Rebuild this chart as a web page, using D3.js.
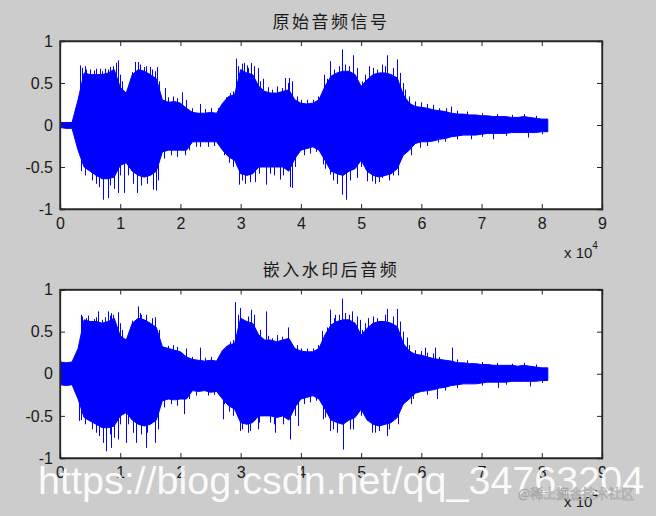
<!DOCTYPE html>
<html><head><meta charset="utf-8">
<script src="https://cdn.jsdelivr.net/npm/d3@7"></script>
<style>html,body{margin:0;padding:0;background:#cccccc;}svg{display:block;}</style>
</head><body>
<script>
// ---------- data ----------
const step = 1000; // samples between envelope points
const xTickValues = [0,1,2,3,4,5,6,7,8,9];   // ×10^4 samples
const yTickValues = [-1,-0.5,0,0.5,1];
const yTickLabels = ["-1","-0.5","0","0.5","1"];
const titles = ["原始音频信号","嵌入水印后音频"];

// original signal: envelope (max / min per 1000 samples)
const upper1 = [0.03,0.03,0.03,0.3,0.62,0.6,0.6,0.6,0.62,0.66,
 0.45,0.38,0.6,0.66,0.64,0.6,0.55,0.3,0.27,0.28,
 0.26,0.2,0.15,0.14,0.14,0.15,0.14,0.26,0.34,0.36,
 0.66,0.62,0.6,0.46,0.4,0.38,0.38,0.4,0.42,0.3,
 0.26,0.25,0.26,0.3,0.46,0.58,0.62,0.64,0.64,0.6,
 0.46,0.54,0.6,0.62,0.62,0.6,0.56,0.36,0.26,0.22,
 0.21,0.2,0.18,0.17,0.16,0.14,0.13,0.13,0.12,0.12,
 0.11,0.11,0.1,0.1,0.1,0.09,0.09,0.1,0.09,0.08,
 0.07,0.07];
const lower1 = [-0.03,-0.04,-0.04,-0.3,-0.5,-0.55,-0.6,-0.64,-0.64,-0.62,
 -0.48,-0.45,-0.55,-0.6,-0.62,-0.6,-0.55,-0.32,-0.3,-0.3,
 -0.3,-0.3,-0.2,-0.2,-0.2,-0.2,-0.2,-0.3,-0.38,-0.42,
 -0.58,-0.6,-0.58,-0.5,-0.5,-0.5,-0.5,-0.5,-0.55,-0.4,
 -0.3,-0.28,-0.26,-0.3,-0.42,-0.55,-0.58,-0.6,-0.55,-0.52,
 -0.42,-0.55,-0.6,-0.62,-0.6,-0.58,-0.52,-0.36,-0.3,-0.22,
 -0.2,-0.2,-0.19,-0.17,-0.16,-0.14,-0.13,-0.12,-0.12,-0.12,
 -0.11,-0.1,-0.1,-0.1,-0.1,-0.09,-0.09,-0.09,-0.09,-0.09,
 -0.08,-0.08];
// isolated peaks [sample, value]
const spikesUp1 = [[3320,0.71],[4150,0.70],[5000,0.66],[6640,0.67],[7970,0.66],[9350,0.74],[9630,0.77],[12450,0.75],[12950,0.75],[13950,0.69],[14950,0.69],[16110,0.69],[17400,0.44],[20260,0.39],[23250,0.25],[26240,0.20],[29180,0.79],[30220,0.73],[30550,0.74],[31050,0.71],[31670,0.74],[32880,0.68],[33710,0.55],[37360,0.56],[38030,0.56],[38530,0.52],[43800,0.60],[44840,0.76],[46880,0.90],[48710,0.83],[51310,0.70],[53420,0.72],[54350,0.83],[55910,0.78],[57290,0.42],[64100,0.20],[64930,0.22]];
const spikesDown1 = [[7140,-0.89],[7970,-0.87],[9630,-0.81],[10630,-0.81],[12790,-0.81],[15440,-0.77],[15940,-0.78],[20760,-0.36],[23250,-0.26],[29230,-0.48],[29720,-0.71],[30720,-0.70],[32380,-0.68],[34160,-0.71],[36530,-0.65],[38190,-0.74],[38580,-0.75],[43720,-0.47],[44840,-0.59],[46780,-0.83],[47440,-0.89],[49270,-0.63],[50930,-0.67],[51760,-0.67],[53420,-0.63],[55350,-0.60],[57570,-0.31],[59780,-0.27],[62720,-0.21],[68250,-0.17],[71850,-0.17],[77670,-0.15]];

// watermarked signal
const upper2 = [0.14,0.13,0.14,0.3,0.64,0.62,0.62,0.6,0.62,0.66,
 0.45,0.4,0.6,0.66,0.64,0.6,0.55,0.32,0.3,0.28,
 0.26,0.2,0.17,0.16,0.15,0.16,0.15,0.28,0.34,0.36,
 0.66,0.62,0.6,0.46,0.4,0.4,0.38,0.4,0.42,0.3,
 0.27,0.26,0.26,0.3,0.46,0.58,0.62,0.64,0.64,0.6,
 0.46,0.54,0.6,0.62,0.62,0.6,0.56,0.36,0.27,0.23,
 0.22,0.2,0.18,0.17,0.16,0.15,0.13,0.13,0.12,0.12,
 0.11,0.11,0.1,0.1,0.1,0.1,0.09,0.1,0.09,0.08,
 0.07,0.07];
const lower2 = [-0.13,-0.14,-0.13,-0.3,-0.52,-0.56,-0.6,-0.64,-0.64,-0.62,
 -0.5,-0.46,-0.55,-0.6,-0.62,-0.6,-0.55,-0.32,-0.3,-0.31,
 -0.3,-0.3,-0.2,-0.21,-0.2,-0.22,-0.21,-0.3,-0.38,-0.42,
 -0.58,-0.6,-0.58,-0.5,-0.5,-0.5,-0.52,-0.5,-0.55,-0.4,
 -0.3,-0.28,-0.26,-0.3,-0.42,-0.55,-0.58,-0.6,-0.55,-0.52,
 -0.42,-0.55,-0.6,-0.62,-0.6,-0.58,-0.52,-0.36,-0.3,-0.23,
 -0.21,-0.2,-0.19,-0.17,-0.16,-0.14,-0.13,-0.12,-0.12,-0.12,
 -0.11,-0.1,-0.1,-0.1,-0.1,-0.09,-0.09,-0.09,-0.09,-0.09,
 -0.08,-0.08];
const spikesUp2 = [[3430,0.70],[4650,0.69],[6310,0.74],[7970,0.74],[8525,0.72],[9630,0.73],[12950,0.80],[13500,0.70],[15720,0.67],[23190,0.31],[29120,0.85],[29830,0.78],[31770,0.76],[34270,0.74],[37860,0.55],[43450,0.51],[44840,0.76],[45660,0.70],[46880,0.89],[48430,0.74],[49820,0.64],[51200,0.66],[54350,0.77],[56020,0.77],[57570,0.43],[60620,0.31],[62280,0.31],[65040,0.31]];
const spikesDown2 = [[3100,-0.56],[7140,-0.82],[7700,-0.92],[8525,-0.88],[9630,-0.78],[11010,-0.82],[12670,-0.82],[14340,-0.88],[15720,-0.82],[20590,-0.48],[27070,-0.54],[29830,-0.68],[31220,-0.70],[32880,-0.66],[35650,-0.70],[38140,-0.78],[39520,-0.62],[43730,-0.54],[44840,-0.68],[47050,-0.90],[48710,-0.66],[51760,-0.70],[54350,-0.74],[57010,-0.36],[58680,-0.30],[62560,-0.30],[72790,-0.17],[78050,-0.15]];

// smaller peaks along the envelope edge (both signals)
const minorUp = [[3700,0.68],[4400,0.66],[5600,0.65],[6000,0.67],[7000,0.64],[7500,0.67],[8300,0.69],[8800,0.7],[9900,0.6],[10300,0.52],[11500,0.45],[12000,0.63],[13300,0.72],[14300,0.7],[15300,0.66],[15700,0.64],[16500,0.52],[18000,0.33],[18800,0.34],[19500,0.32],[21000,0.3],[22000,0.2],[24000,0.19],[25000,0.2],[27500,0.33],[28200,0.38],[28700,0.4],[29600,0.7],[31300,0.68],[32200,0.7],[33200,0.52],[34500,0.45],[35200,0.42],[36000,0.46],[36800,0.44],[37800,0.5],[39300,0.34],[40000,0.3],[41000,0.3],[42000,0.3],[42800,0.34],[44300,0.55],[45500,0.66],[46300,0.7],[47300,0.72],[48000,0.7],[49300,0.68],[50200,0.52],[50600,0.6],[52000,0.68],[52700,0.66],[53900,0.7],[55300,0.68],[56500,0.62],[57000,0.5],[58000,0.34],[59000,0.28],[60000,0.27],[61000,0.25],[62000,0.24],[63000,0.2],[66000,0.17],[67500,0.16],[70000,0.14],[72500,0.13],[75000,0.12],[77000,0.13],[79000,0.11]];
const minorDown = [[3500,-0.55],[4200,-0.6],[5300,-0.66],[6000,-0.7],[6500,-0.74],[8300,-0.72],[8900,-0.76],[10000,-0.6],[11300,-0.6],[12200,-0.7],[13500,-0.72],[14500,-0.7],[16300,-0.66],[17200,-0.4],[18500,-0.36],[19500,-0.38],[21500,-0.3],[22500,-0.26],[24500,-0.26],[25500,-0.25],[27300,-0.36],[28000,-0.45],[28800,-0.5],[30200,-0.66],[31500,-0.68],[33000,-0.58],[34800,-0.58],[35500,-0.6],[37000,-0.6],[39000,-0.5],[40500,-0.36],[41500,-0.34],[42500,-0.32],[44000,-0.52],[45300,-0.66],[46000,-0.7],[48200,-0.66],[50000,-0.5],[52300,-0.7],[53000,-0.68],[54600,-0.66],[56200,-0.6],[58300,-0.36],[61000,-0.25],[64000,-0.2],[66000,-0.17],[70000,-0.14],[74000,-0.13],[80000,-0.11]];

// ---------- drawing ----------
const W = 656, H = 516;
const svg = d3.select("body").append("svg").attr("width", W).attr("height", H);
svg.append("rect").attr("width", W).attr("height", H).attr("fill", "#cccccc");

const panels = [
  {top: 41, bottom: 209, title: titles[0], up: upper1, lo: lower1, su: spikesUp1, sd: spikesDown1},
  {top: 289.5, bottom: 458, title: titles[1], up: upper2, lo: lower2, su: spikesUp2, sd: spikesDown2}
];
const left = 60, right = 602;
const blue = "#0000ff";
const axisColor = "#262626";
const tickFont = "'Liberation Sans', Arial, Helvetica, sans-serif";

panels.forEach(p => {
  const x = d3.scaleLinear().domain([0, 90000]).range([left, right]);
  const y = d3.scaleLinear().domain([-1, 1]).range([p.bottom, p.top]);
  const g = svg.append("g");

  g.append("rect").attr("x", left).attr("y", p.top)
    .attr("width", right - left).attr("height", p.bottom - p.top).attr("fill", "#ffffff");

  const clip = "clip" + Math.round(p.top);
  svg.append("clipPath").attr("id", clip).append("rect")
    .attr("x", left).attr("y", p.top).attr("width", right - left).attr("height", p.bottom - p.top);
  const plot = g.append("g").attr("clip-path", `url(#${clip})`);

  const idx = d3.range(p.up.length);
  const area = d3.area()
    .x(i => x(i * step))
    .y0(i => y(p.lo[i]))
    .y1(i => y(p.up[i]));
  plot.append("path").datum(idx).attr("d", area)
    .attr("fill", blue).attr("stroke", blue).attr("stroke-width", 1);

  const needles = p.su.concat(p.sd, minorUp, minorDown);
  plot.selectAll("line.nd").data(needles).enter().append("line")
    .attr("x1", d => Math.round(x(d[0])) + 0.5).attr("x2", d => Math.round(x(d[0])) + 0.5)
    .attr("y1", y(0)).attr("y2", d => y(d[1]))
    .attr("stroke", blue).attr("stroke-width", 1);

  // axes (MATLAB style: ticks inside, box)
  const xAxisB = d3.axisBottom(x).tickValues(xTickValues.map(v => v * 10000))
    .tickSize(-5).tickPadding(9).tickFormat(d => String(d / 10000));
  const xAxisT = d3.axisTop(x).tickValues(xTickValues.map(v => v * 10000))
    .tickSize(-5).tickFormat("");
  const yAxisL = d3.axisLeft(y).tickValues(yTickValues).tickSize(-5).tickPadding(7)
    .tickFormat(d => yTickLabels[yTickValues.indexOf(d)]);
  const yAxisR = d3.axisRight(y).tickValues(yTickValues).tickSize(-5).tickFormat("");

  const ax = [
    g.append("g").attr("transform", `translate(0,${p.bottom})`).call(xAxisB),
    g.append("g").attr("transform", `translate(0,${p.top})`).call(xAxisT),
    g.append("g").attr("transform", `translate(${left},0)`).call(yAxisL),
    g.append("g").attr("transform", `translate(${right},0)`).call(yAxisR)
  ];
  ax.forEach(a => {
    a.select(".domain").attr("stroke", axisColor).attr("stroke-width", 1.3);
    a.selectAll(".tick line").attr("stroke", axisColor).attr("stroke-width", 1);
    a.selectAll(".tick text").attr("fill", "#1a1a1a").style("font-family", tickFont).style("font-size", "16px");
  });
  g.append("rect").attr("x", left).attr("y", p.top)
    .attr("width", right - left).attr("height", p.bottom - p.top)
    .attr("fill", "none").attr("stroke", axisColor).attr("stroke-width", 1.3);

  // title
  g.append("text").attr("x", (left + right) / 2).attr("y", p.top - 21)
    .attr("text-anchor", "middle").attr("dominant-baseline", "central")
    .style("font-family", "'Noto Sans CJK SC', sans-serif").style("font-size", "17px")
    .style("letter-spacing", "2.5px").attr("fill", "#1a1a1a").text(p.title);

  // exponent label
  const ex = g.append("text").attr("x", 564).attr("y", p.bottom + 49)
    .style("font-family", tickFont).style("font-size", "15px").attr("fill", "#1a1a1a");
  ex.append("tspan").text("x 10");
  ex.append("tspan").attr("dy", -9).style("font-size", "10px").text("4");
});

// watermarks
svg.append("text").attr("x", 38).attr("y", 494)
  .style("font-family", tickFont).style("font-size", "39.5px")
  .attr("fill", "#ffffff").attr("fill-opacity", 0.92)
  .text("https://blog.csdn.net/qq_34763204");
svg.append("text").attr("x", 518).attr("y", 498)
  .style("font-family", "'Noto Sans CJK SC', sans-serif").style("font-size", "13px")
  .attr("fill", "#d8d8d8").attr("stroke", "#9a9a9a").attr("stroke-width", 0.5)
  .text("@稀土掘金技术社区");
</script>
</body></html>
